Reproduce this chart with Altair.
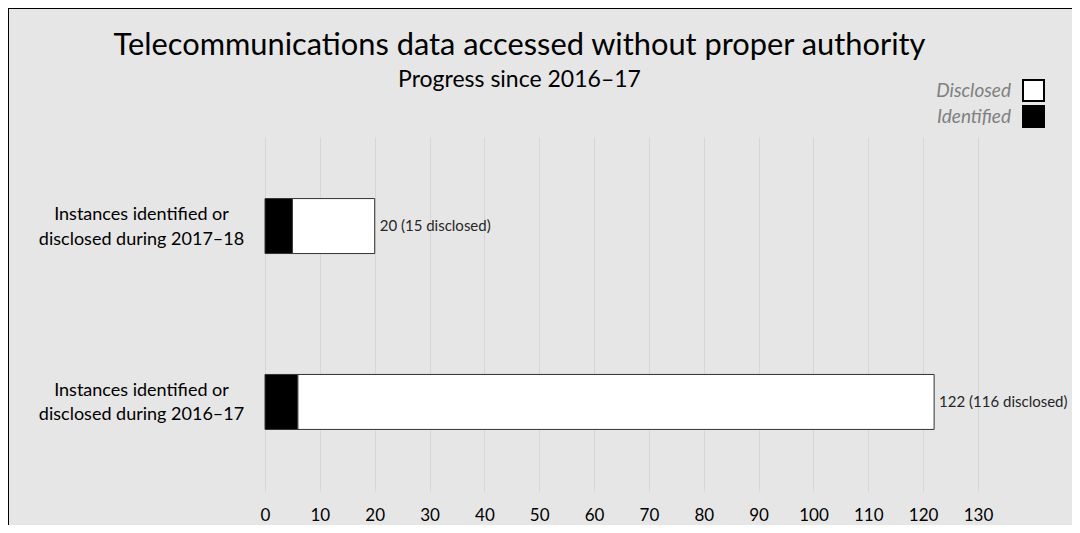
import altair as alt
import pandas as pd

# ---- data ----
periods = [
    "Instances identified or|disclosed during 2017–18",
    "Instances identified or|disclosed during 2016–17",
]
totals = [20, 122]
disclosed = [15, 116]
identified = [5, 6]
series = ["Disclosed", "Identified"]
series_colors = ["#ffffff", "#000000"]
x_ticks = [0, 10, 20, 30, 40, 50, 60, 70, 80, 90, 100, 110, 120, 130]
title_text = "Telecommunications data accessed without proper authority"
subtitle_text = "Progress since 2016–17"

FONT = "Lato"

rows = []
for p, t, i in zip(periods, totals, identified):
    rows.append({"period": p, "series": "Identified", "start": 0, "end": i})
    rows.append({"period": p, "series": "Disclosed", "start": i, "end": t})
seg = pd.DataFrame(rows)

lab = pd.DataFrame({
    "period": periods,
    "total": totals,
    "label": [f"{t} ({d} disclosed)" for t, d in zip(totals, disclosed)],
})

TOTAL_W, TOTAL_H = 1064, 517
W, H = 713, 354
PAD = {"left": 257, "top": 129, "right": TOTAL_W - 257 - W, "bottom": TOTAL_H - 129 - H}

yenc = alt.Y(
    "period:N",
    sort=periods,
    scale=alt.Scale(domain=periods, paddingInner=0.6875, paddingOuter=0.35),
    axis=alt.Axis(
        title=None, domain=False, ticks=False,
        labelExpr="split(datum.value, '|')",
        labelAlign="center", labelBaseline="middle",
        labelOffset={"expr": "-11"},
        labelPadding=124, labelFontSize=18, labelLineHeight=24.5,
        labelFont=FONT, labelColor="#000000", labelLimit=400,
    ),
)

xscale = alt.Scale(domain=[0, 130], nice=False, zero=True)

bars = alt.Chart(seg).mark_bar(stroke="#333333", strokeWidth=1, opacity=1).encode(
    x=alt.X(
        "start:Q", scale=xscale,
        axis=alt.Axis(
            values=x_ticks, title=None, domain=False, ticks=False, grid=True,
            gridColor="#d6d6d6", gridWidth=1, labelFontSize=17, labelPadding=16,
            labelFont=FONT, labelColor="#000000", labelFlush=False,
        ),
    ),
    x2="end:Q",
    y=yenc,
    color=alt.Color(
        "series:N",
        scale=alt.Scale(domain=series, range=series_colors),
        legend=alt.Legend(
            orient="none", legendX=757, legendY=-58, title=None,
            symbolType="square", symbolSize=441, symbolStrokeColor="#000000",
            symbolStrokeWidth=2, symbolOpacity=1,
            labelAlign="right", labelOffset={"expr": "-34"}, labelFont=FONT,
            labelFontStyle="italic", labelColor="#808080", labelFontSize=19,
            rowPadding={"expr": "-4"}, padding=0,
        ),
    ),
)

labels = alt.Chart(lab).mark_text(
    align="left", baseline="middle", dx=5, fontSize=15, font=FONT, color="#262626"
).encode(
    x=alt.X("total:Q", scale=xscale),
    y=alt.Y("period:N", sort=periods),
    text="label:N",
)

frame = alt.Chart(pd.DataFrame({"k": [0]})).mark_rule(color="#000000", strokeWidth=2).encode(
    x=alt.value(-257), y=alt.value(-130), y2=alt.value(H + 60)
)
frame_top = alt.Chart(pd.DataFrame({"k": [0]})).mark_rule(color="#000000", strokeWidth=2).encode(
    x=alt.value(-258), x2=alt.value(W + 110), y=alt.value(-129)
)

chart = alt.layer(bars, labels, frame, frame_top).properties(
    width=W, height=H,
    autosize=alt.AutoSizeParams(type="none"),
    padding=PAD,
    background="#e6e6e6",
    title=alt.TitleParams(
        text=title_text, subtitle=subtitle_text,
        anchor="middle", frame="group", dx=-102, offset={"expr": "-87"},
        font=FONT, fontSize=30.8, fontWeight="normal", color="#000000",
        subtitleFont=FONT, subtitleFontSize=23, subtitleColor="#000000",
        subtitlePadding=7,
    ),
).configure_view(stroke=None)

chart.save("out.html", embed_options={"renderer": "svg", "actions": False})
